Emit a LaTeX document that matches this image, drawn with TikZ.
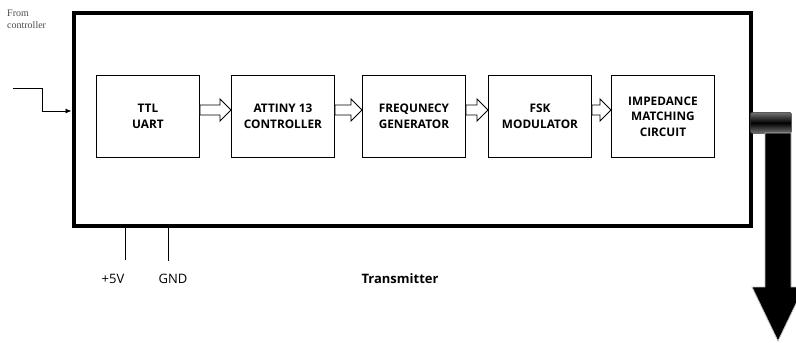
\documentclass[tikz,border=0pt]{standalone}
\usepackage{fontspec}
\setmainfont{Open Sans}
\newfontfamily\fromfont{Liberation Serif}
\usetikzlibrary{calc,arrows.meta}
\tikzset{
  blockbox/.style={draw, line width=0.9pt, fill=white, minimum width=103pt, minimum height=82pt,
    inner sep=0pt, align=center, font=\bfseries\fontsize{11.8}{15.5}\selectfont},
  hollowarrow/.style={draw, line width=0.9pt, fill=white, line join=miter},
  wire/.style={line width=0.9pt},
  lbl/.style={inner sep=0pt, font=\fontsize{13}{15}\selectfont},
}
\newcommand\hollowarr[2]{%
  \draw[hollowarrow] let \p1=(#1.east), \p2=(#2.west) in
   (\x1,110-5) -- (\x2-11pt,110-5) -- (\x2-11pt,110-11) -- (\x2,110) --
   (\x2-11pt,110+11) -- (\x2-11pt,110+5) -- (\x1,110+5) -- cycle;}
\begin{document}
\begin{tikzpicture}[x=1pt,y=-1pt]
\clip (0,0) rectangle (796,343);
\fill[white] (0,0) rectangle (796,343);
% outer transmitter box
\node[draw, line width=4pt, minimum width=677.5pt, minimum height=213pt, inner sep=0pt, anchor=north west] (tx) at (71.5,11) {};
% blocks
\node[blockbox, anchor=north west] (uart) at (96,75) {TTL\\UART};
\node[blockbox, anchor=north west] (ctrl) at (231,75) {ATTINY 13\\CONTROLLER};
\node[blockbox, anchor=north west] (freq) at (362,75) {FREQUNECY\\GENERATOR};
\node[blockbox, anchor=north west] (fsk) at (488,75) {FSK\\MODULATOR};
\node[blockbox, anchor=north west] (imp) at (611,75) {IMPEDANCE\\MATCHING\\CIRCUIT};
\hollowarr{uart}{ctrl}
\hollowarr{ctrl}{freq}
\hollowarr{freq}{fsk}
\hollowarr{fsk}{imp}
% input
\node[inner sep=0pt, anchor=north west, align=left, font=\fromfont\fontsize{10}{11.5}\selectfont, text=black!70] (from) at (7,10) {From\\controller};
\coordinate (inS) at (13,88);
\coordinate (inK) at (42,88);
\draw[wire, -{Latex[length=6pt,width=5pt]}] (inS) -- (inK) |- (tx.west |- 0,111);
% power
\coordinate (p5) at (125,260);
\coordinate (pg) at (168,261);
\draw[wire] (p5 |- tx.south) -- (p5);
\draw[wire] (pg |- tx.south) -- (pg);
\node[lbl] (l5) at (113,279) {+5V};
\node[lbl] (lg) at (173,279) {GND};
\node[lbl, font=\bfseries\fontsize{13}{15}\selectfont] (ltx) at (400,279) {Transmitter};
% output connector
\node[draw=black!80, line width=0.6pt, rounded corners=1.5pt, top color=black!55, bottom color=black!55, middle color=black,
  minimum width=41pt, minimum height=21pt, inner sep=0pt, anchor=north west] (plug) at (750,112) {};
\draw[fill=black, draw=black!25, line width=0.8pt] (765,133) -- (791,133) -- (791,287) -- (804,287) -- (778,341) -- (752,287) -- (765,287) -- cycle;
\end{tikzpicture}
\end{document}
